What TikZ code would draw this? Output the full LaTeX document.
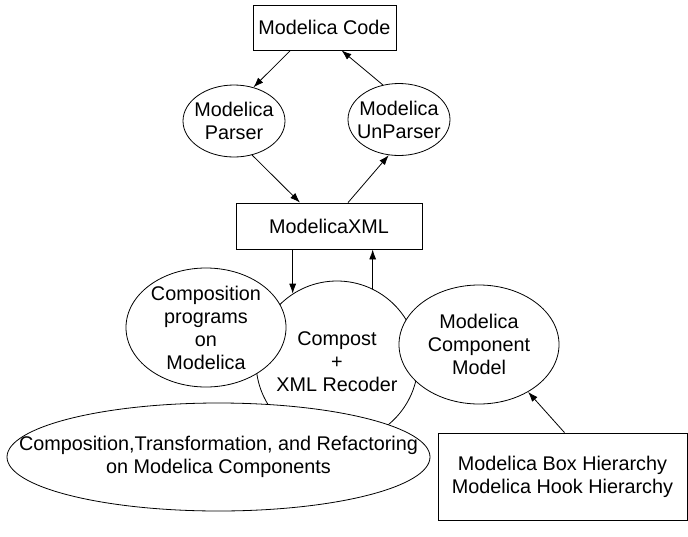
\documentclass[tikz,border=0pt]{standalone}
\usepackage{fontspec}
\setmainfont{Liberation Sans}
\usetikzlibrary{arrows.meta,shapes.geometric}

\begin{document}
\begin{tikzpicture}[x=1pt,y=-1pt]
	\tikzstyle{box}=[rectangle,draw=black,fill=white,line width=0.8pt,align=center,font=\fontsize{19.8}{23}\selectfont]
	\tikzstyle{blob}=[ellipse,draw=black,fill=white,line width=0.8pt,inner sep=-60pt,align=center,font=\fontsize{19.8}{23}\selectfont]
	\tikzstyle{arrow}=[-{Latex[length=10pt,width=7pt]},line width=0.8pt]
	\useasboundingbox (0,0) rectangle (688,536);
	\node[box,minimum width=143pt,minimum height=45pt](code) at (324.5,27.5) {Modelica Code};
	\node[blob,minimum width=102pt,minimum height=72pt](parser) at (234,121) {Modelica\\Parser};
	\node[blob,minimum width=102pt,minimum height=72pt](unparser) at (399,119.5) {Modelica\\UnParser};
	\node[box,minimum width=186pt,minimum height=46pt](xml) at (329,226) {ModelicaXML};
	\node[blob,shape=circle,minimum size=162pt](compost) at (337,362) {Compost\\+\\XML Recoder};
	\node[blob,minimum width=160pt,minimum height=119pt](programs) at (206,327.5) {Composition\\programs\\on\\Modelica};
	\node[blob,minimum width=160pt,minimum height=119pt](component) at (479,344.5) {Modelica\\Component\\Model};
	\node[blob,minimum width=423pt,minimum height=108pt](refactor) at (218.5,457) {Composition,Transformation, and Refactoring\\on Modelica Components};
	\node[box,minimum width=249pt,minimum height=87pt](hierarchy) at (562.5,476.5) {Modelica Box Hierarchy\\Modelica Hook Hierarchy};
	\path[arrow]
		([xshift=-34pt]code.south) edge (parser.60)
		(unparser.115) edge ([xshift=17pt]code.south)
		(parser.298) edge ([xshift=-29pt]xml.north)
		([xshift=19pt]xml.north) edge (unparser.254)
		(xml.south -| compost.123) edge (compost.123)
		(compost.64) edge (compost.64 |- xml.south)
		([xshift=2pt]hierarchy.north) edge (component.316);
\end{tikzpicture}
\end{document}
